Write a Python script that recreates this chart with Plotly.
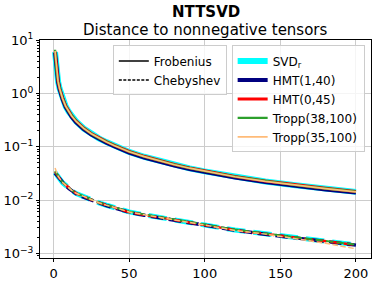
import plotly.graph_objects as go

# ---- data ----
x_vals = [1, 2, 3, 4, 5, 6, 8, 10, 12, 15, 20, 25, 30, 35, 40, 45, 50, 60, 70, 80, 90, 100, 120, 140, 160, 180, 200]

methods = ["SVD<sub>r</sub>", "HMT(1,40)", "HMT(0,45)", "Tropp(38,100)", "Tropp(35,100)"]

frob_svd = [6.0, 2.61, 1.67, 1.235, 0.977, 0.80, 0.575, 0.455, 0.376, 0.297, 0.22, 0.174, 0.1437, 0.1222, 0.1055, 0.0921, 0.080, 0.0649, 0.054, 0.0457, 0.0394, 0.0345, 0.0273, 0.0224, 0.0189, 0.0163, 0.01425]
frob_hmt1 = [5.8, 2.53, 1.62, 1.198, 0.948, 0.776, 0.558, 0.441, 0.365, 0.288, 0.213, 0.169, 0.1394, 0.1185, 0.1023, 0.0893, 0.0776, 0.063, 0.0524, 0.0443, 0.0382, 0.0335, 0.0265, 0.0217, 0.0183, 0.0158, 0.0138]
frob_hmt0 = [6.1, 2.66, 1.70, 1.26, 0.997, 0.816, 0.587, 0.464, 0.384, 0.303, 0.224, 0.1775, 0.1466, 0.1246, 0.1076, 0.0939, 0.0816, 0.0662, 0.0551, 0.0466, 0.0402, 0.0352, 0.0278, 0.0228, 0.0193, 0.0166, 0.01454]
frob_tropp38 = [6.6, 2.64, 1.69, 1.247, 0.987, 0.808, 0.581, 0.46, 0.38, 0.30, 0.222, 0.1757, 0.1451, 0.1234, 0.1066, 0.093, 0.0808, 0.0655, 0.0545, 0.0462, 0.0398, 0.0348, 0.0276, 0.0226, 0.0191, 0.0165, 0.0144]
frob_tropp35 = [6.3, 2.62, 1.68, 1.24, 0.982, 0.804, 0.578, 0.457, 0.378, 0.298, 0.221, 0.175, 0.1444, 0.1228, 0.106, 0.0926, 0.0804, 0.0652, 0.0543, 0.0459, 0.0396, 0.0347, 0.0274, 0.0225, 0.019, 0.0164, 0.0143]

cheb_svd = [0.033, 0.030, 0.027, 0.025, 0.023, 0.0212, 0.019, 0.0168, 0.0151, 0.0133, 0.0115, 0.0100, 0.0089, 0.0080, 0.0073, 0.0066, 0.0060, 0.0053, 0.0047, 0.0042, 0.0038, 0.0034, 0.00275, 0.00232, 0.00198, 0.00170, 0.00145]
cheb_hmt1 = [0.032, 0.0295, 0.0265, 0.0247, 0.0227, 0.021, 0.0187, 0.0166, 0.015, 0.0131, 0.0113, 0.0099, 0.0088, 0.0079, 0.0072, 0.0065, 0.0059, 0.0052, 0.00465, 0.0041, 0.00375, 0.00335, 0.00272, 0.00229, 0.00196, 0.00168, 0.00143]
cheb_hmt0 = [0.034, 0.0305, 0.0272, 0.0252, 0.0232, 0.0213, 0.0192, 0.0169, 0.0152, 0.0134, 0.0116, 0.0101, 0.0089, 0.0081, 0.0074, 0.0066, 0.0059, 0.0053, 0.0048, 0.0042, 0.0038, 0.0034, 0.00274, 0.00233, 0.00197, 0.00171, 0.00144]
cheb_tropp38 = [0.035, 0.031, 0.0275, 0.0255, 0.0234, 0.0215, 0.0193, 0.0171, 0.0153, 0.0135, 0.0117, 0.0102, 0.0090, 0.0081, 0.0074, 0.0067, 0.0061, 0.0054, 0.0048, 0.0043, 0.0039, 0.0035, 0.0028, 0.00236, 0.0020, 0.00173, 0.00146]
cheb_tropp35 = [0.040, 0.033, 0.028, 0.0255, 0.0232, 0.0214, 0.0191, 0.0169, 0.0152, 0.0134, 0.0116, 0.0100, 0.0089, 0.0080, 0.0073, 0.0066, 0.0060, 0.0053, 0.0047, 0.0042, 0.0038, 0.0034, 0.0027, 0.0023, 0.0019, 0.00155, 0.00122]

frob_series = [frob_svd, frob_hmt1, frob_hmt0, frob_tropp38, frob_tropp35]
cheb_series = [cheb_svd, cheb_hmt1, cheb_hmt0, cheb_tropp38, cheb_tropp35]

x_ticks = [0, 50, 100, 150, 200]
y_ticks = [10, 1, 0.1, 0.01, 0.001]
y_tick_text = ["10<sup>1</sup>", "10<sup>0</sup>", "10<sup>\u22121</sup>", "10<sup>\u22122</sup>", "10<sup>\u22123</sup>"]

title_main = "NTTSVD"
title_sub = "Distance to nonnegative tensors"

# ---- styles ----
colors = ["#00ffff", "#000080", "#ff0000", "#2ca02c", "#ffbb78"]
widths = [6, 4, 3, 2.3, 1.7]
dash_widths = [5, 3.4, 2.5, 2.0, 1.5]
FONT = "DejaVu Sans"


def dash_for(w):
    # matplotlib-style dashes, scaled with the line width
    return "%.1fpx,%.1fpx" % (3.7 * w, 1.6 * w)


fig = go.Figure()

# style legend (Frobenius / Chebyshev)
fig.add_trace(go.Scatter(x=[None], y=[None], mode="lines", name="Frobenius",
                         line=dict(color="black", width=1.5), legend="legend"))
fig.add_trace(go.Scatter(x=[None], y=[None], mode="lines", name="Chebyshev",
                         line=dict(color="black", width=1.5, dash="3px,1.5px"), legend="legend"))

for name, ys, c, w in zip(methods, frob_series, colors, widths):
    fig.add_trace(go.Scatter(x=x_vals, y=ys, mode="lines", name=name,
                             line=dict(color=c, width=w), legend="legend2"))
for name, ys, c, w in zip(methods, cheb_series, colors, dash_widths):
    fig.add_trace(go.Scatter(x=x_vals, y=ys, mode="lines", name=name, showlegend=False,
                             line=dict(color=c, width=w, dash=dash_for(w)), legend="legend2"))

fig.update_layout(
    width=374, height=286,
    margin=dict(l=40, r=3, t=40, b=28, autoexpand=False),
    paper_bgcolor="white", plot_bgcolor="white",
    font=dict(family=FONT, size=13, color="black"),
    showlegend=True,
    legend=dict(x=0.22, y=0.975, xanchor="left", yanchor="top",
                bgcolor="rgba(255,255,255,0.8)", bordercolor="#cccccc", borderwidth=1,
                font=dict(family=FONT, size=12)),
    legend2=dict(x=0.579, y=0.975, xanchor="left", yanchor="top",
                 bgcolor="rgba(255,255,255,0.8)", bordercolor="#cccccc", borderwidth=1,
                 font=dict(family=FONT, size=12)),
    annotations=[
        dict(text="<b>" + title_main + "</b>", x=0.5, y=1.128, xref="paper", yref="paper",
             xanchor="center", yanchor="middle", showarrow=False,
             font=dict(family=FONT, size=15, color="black")),
        dict(text=title_sub, x=0.5, y=1.045, xref="paper", yref="paper",
             xanchor="center", yanchor="middle", showarrow=False,
             font=dict(family=FONT, size=15, color="black")),
    ],
)

fig.update_xaxes(range=[-8.95, 209.95], tickvals=x_ticks, ticks="outside", ticklen=3,
                 tickcolor="black", showgrid=True, gridcolor="#cccccc", gridwidth=1,
                 showline=True, linecolor="black", linewidth=1, mirror=True, zeroline=False,
                 automargin=False, tickfont=dict(family=FONT, size=13))
fig.update_yaxes(type="log", range=[-3.086, 1.002], tickvals=y_ticks, ticktext=y_tick_text,
                 ticks="outside", ticklen=3, tickcolor="black",
                 showgrid=True, gridcolor="#cccccc", gridwidth=1,
                 showline=True, linecolor="black", linewidth=1, mirror=True, zeroline=False,
                 automargin=False,
                 minor=dict(ticks="outside", ticklen=2, tickcolor="black", showgrid=False, dtick="D1"),
                 tickfont=dict(family=FONT, size=13))

fig.write_html("out.html", config={"displayModeBar": False},
               post_script="document.body.style.margin='0';document.body.style.padding='0';"
                           "document.body.style.overflow='hidden';")
